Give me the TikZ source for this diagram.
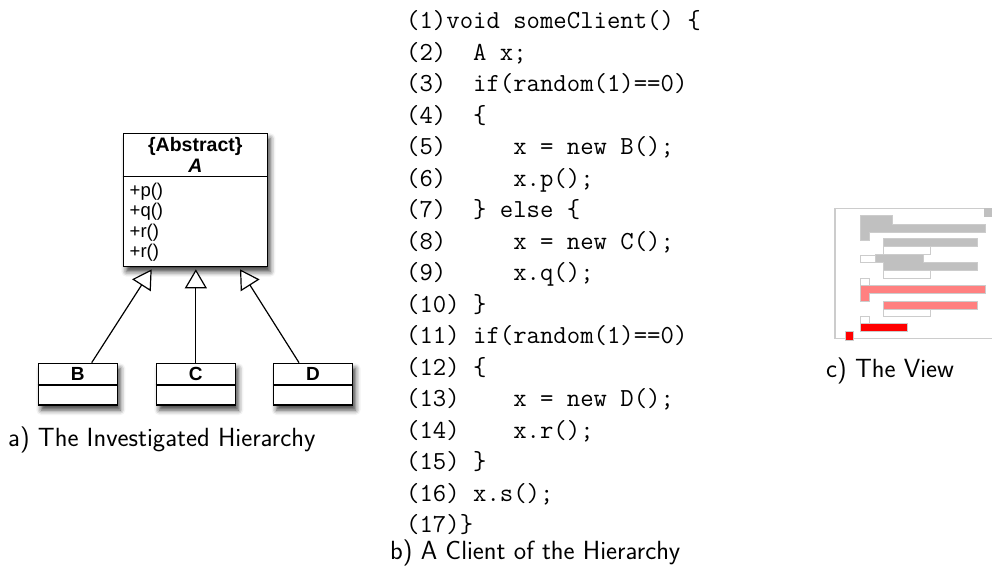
\documentclass[tikz,border=0pt]{standalone}
\usepackage{fontspec}
\newfontfamily\umlfont{Liberation Sans}
\usetikzlibrary{arrows.meta,shadows.blur,calc}
\definecolor{vgray}{RGB}{192,192,192}
\definecolor{vline}{RGB}{204,204,204}
\definecolor{vpink}{RGB}{255,128,128}
\definecolor{vred}{RGB}{255,0,0}
\begin{document}
\begin{tikzpicture}[x=1pt,y=-1pt,
  umlbox/.style={draw=black, line width=1.4pt, fill=white, inner sep=0,
    blur shadow={shadow xshift=3pt, shadow yshift=-5pt, shadow blur radius=5pt, shadow opacity=75}},
  divline/.style={line width=1.2pt},
  umlhead/.style={font=\umlfont\bfseries\fontsize{19.5}{20}\selectfont, inner sep=0, anchor=base},
  umlmeth/.style={font=\umlfont\fontsize{18.5}{20}\selectfont, inner sep=0, anchor=base west},
  umlname/.style={font=\umlfont\bfseries\fontsize{19}{20}\selectfont, inner sep=0, anchor=base},
  conn/.style={line width=1.2pt, -{Triangle[open, length=19pt, width=22pt, fill=white]}},
  caption/.style={font=\sffamily\fontsize{26.3}{31.6}\selectfont, inner sep=0, anchor=base west},
  code/.style={font=\ttfamily\fontsize{26}{31.5}\selectfont, inner sep=0, anchor=base west},
  vshape/.style={draw=vline, line width=1pt},
]
\useasboundingbox (0,0) rectangle (992,574);

% ---------- a) hierarchy ----------
\node[umlbox, minimum width=144, minimum height=133.4] (A) at (195.3,200) {};
\draw[divline] ($(A.north west)+(0,44)$) -- ($(A.north east)+(0,44)$);
\node[umlhead] (Aster) at (195.3,151) {\{Abstract\}};
\node[umlhead, font=\umlfont\bfseries\itshape\fontsize{19.5}{20}\selectfont] (Aname) at (195.3,172) {A};
\node[umlmeth] (m1) at (129.5,196) {+p()};
\node[umlmeth] (m2) at (129.5,216.5) {+q()};
\node[umlmeth] (m3) at (129.5,237) {+r()};
\node[umlmeth] (m4) at (129.5,257.5) {+r()};

\node[umlbox, minimum width=79, minimum height=41.7] (B) at (77.8,384.2) {};
\node[umlbox, minimum width=79, minimum height=41.7] (C) at (195.85,384.2) {};
\node[umlbox, minimum width=79, minimum height=41.7] (D) at (313,384.2) {};
\foreach \n in {B,C,D}{
  \draw[divline] ($(\n.north west)+(0,22.4)$) -- ($(\n.north east)+(0,22.4)$);
}
\node[umlname] (Bl) at (77.8,380.5) {B};
\node[umlname] (Cl) at (195.85,380.5) {C};
\node[umlname] (Dl) at (313,380.5) {D};

\coordinate (bs) at ($(B.north)+(13.9,0)$);
\coordinate (cs) at (C.north);
\coordinate (ds) at ($(D.north)+(-14,0)$);
\coordinate (tb) at (151.7,269.3);
\coordinate (tc) at (195.85,269.3);
\coordinate (td) at (240,269.3);
\draw[conn] (bs) -- (tb);
\draw[conn] (cs) -- (tc);
\draw[conn] (ds) -- (td);

\node[caption] (capa) at (8,446) {a) The Investigated Hierarchy};

% ---------- b) client code ----------
\node[code] (L1)  at (406,28.5)  {(1)void~someClient()~\{};
\node[code] (L2)  at (406,60.0)  {(2)~~A~x;};
\node[code] (L3)  at (406,91.5)  {(3)~~if(random(1)==0)};
\node[code] (L4)  at (406,123.0) {(4)~~\{};
\node[code] (L5)  at (406,154.5) {(5)~~~~~x~=~new~B();};
\node[code] (L6)  at (406,186.0) {(6)~~~~~x.p();};
\node[code] (L7)  at (406,217.5) {(7)~~\}~else~\{};
\node[code] (L8)  at (406,249.0) {(8)~~~~~x~=~new~C();};
\node[code] (L9)  at (406,280.5) {(9)~~~~~x.q();};
\node[code] (L10) at (406,312.0) {(10)~\}};
\node[code] (L11) at (406,343.5) {(11)~if(random(1)==0)};
\node[code] (L12) at (406,375.0) {(12)~\{};
\node[code] (L13) at (406,406.5) {(13)~~~~x~=~new~D();};
\node[code] (L14) at (406,438.0) {(14)~~~~x.r();};
\node[code] (L15) at (406,469.5) {(15)~\}};
\node[code] (L16) at (406,501.0) {(16)~x.s();};
\node[code] (L17) at (406,532.5) {(17)\}};
\node[caption] (capb) at (390,559) {b) A Client of the Hierarchy};

% ---------- c) the view ----------
\draw[vline, line width=1.5pt] (995,208.3) -- (835,208.3) -- (835,338.3) -- (995,338.3);
\fill[vgray] (984,208.3) rectangle (995,216.7);
% row 1
\filldraw[vshape, fill=vgray] (860.7,215.7) -- (892.3,215.7) -- (892.3,224) -- (985.7,224)
  -- (985.7,232.3) -- (869,232.3) -- (869,240) -- (860.7,240) -- cycle;
% row 2
\filldraw[vshape, fill=vgray] (883.3,238.5) rectangle (977.7,246.7);
\filldraw[vshape, fill=white] (883.3,246.7) rectangle (930.3,254.3);
% row 3
\filldraw[vshape, fill=white] (860.7,255) rectangle (875.7,262.5);
\filldraw[vshape, fill=vgray] (875.7,254.5) -- (923.3,254.5) -- (923.3,262.5) -- (977.7,262.5)
  -- (977.7,270.5) -- (883.3,270.5) -- (883.3,262.5) -- (875.7,262.5) -- cycle;
\filldraw[vshape, fill=white] (883.3,270.5) rectangle (930.3,278.3);
% row 4
\filldraw[vshape, fill=white] (860.7,278.3) rectangle (869,285);
\filldraw[vshape, fill=vpink] (860.7,285) -- (985,285) -- (985,293.3) -- (869,293.3)
  -- (869,301) -- (860.7,301) -- cycle;
% row 5
\filldraw[vshape, fill=vpink] (883.3,301) rectangle (977.3,309);
\filldraw[vshape, fill=white] (883.3,309) rectangle (930.7,316.7);
% row 6
\filldraw[vshape, fill=white] (860.7,316.7) rectangle (869,323.3);
\filldraw[vshape, fill=vred] (860.7,323.3) rectangle (907.7,331.7);
\filldraw[vshape, fill=vred] (845,331.7) rectangle (853.3,340);

\node[caption] (capc) at (826,377) {c) The View};
\end{tikzpicture}
\end{document}
